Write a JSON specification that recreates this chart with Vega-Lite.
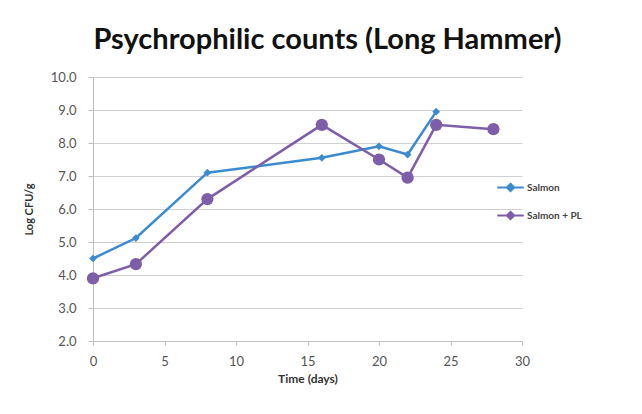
{
  "$schema": "https://vega.github.io/schema/vega-lite/v6.json",
  "autosize": {"type": "none"},
  "padding": {"left": 93, "top": 77, "right": 120, "bottom": 73},
  "width": 429,
  "height": 264,
  "background": "white",
  "title": {
    "text": "Psychrophilic counts (Long Hammer)",
    "font": "Lato",
    "fontSize": 29,
    "fontWeight": "bold",
    "color": "#111111",
    "anchor": "middle",
    "offset": 16,
    "dx": 20
  },
  "data": {
    "values": [
      {"day": 0, "log": 4.5, "series": "Salmon"},
      {"day": 3, "log": 5.12, "series": "Salmon"},
      {"day": 8, "log": 7.1, "series": "Salmon"},
      {"day": 16, "log": 7.55, "series": "Salmon"},
      {"day": 20, "log": 7.9, "series": "Salmon"},
      {"day": 22, "log": 7.65, "series": "Salmon"},
      {"day": 24, "log": 8.95, "series": "Salmon"},
      {"day": 0, "log": 3.9, "series": "Salmon + PL"},
      {"day": 3, "log": 4.33, "series": "Salmon + PL"},
      {"day": 8, "log": 6.3, "series": "Salmon + PL"},
      {"day": 16, "log": 8.55, "series": "Salmon + PL"},
      {"day": 20, "log": 7.5, "series": "Salmon + PL"},
      {"day": 22, "log": 6.95, "series": "Salmon + PL"},
      {"day": 24, "log": 8.55, "series": "Salmon + PL"},
      {"day": 28, "log": 8.42, "series": "Salmon + PL"}
    ]
  },
  "encoding": {
    "x": {
      "field": "day",
      "type": "quantitative",
      "scale": {"domain": [0, 30], "nice": false},
      "axis": {
        "title": "Time (days)",
        "values": [0, 5, 10, 15, 20, 25, 30],
        "grid": false,
        "labelFlush": false,
        "domainColor": "#bfbfbf",
        "tickColor": "#bfbfbf",
        "tickSize": 4,
        "labelFont": "Lato",
        "labelFontSize": 13,
        "labelColor": "#555555",
        "labelPadding": 10,
        "titleFont": "Lato",
        "titleFontSize": 12,
        "titleFontWeight": "bold",
        "titleColor": "#333333",
        "titlePadding": 5
      }
    },
    "y": {
      "field": "log",
      "type": "quantitative",
      "scale": {"domain": [2, 10], "nice": false, "zero": false},
      "axis": {
        "title": "Log CFU/g",
        "values": [2, 3, 4, 5, 6, 7, 8, 9, 10],
        "format": ".1f",
        "gridColor": "#d0d0d0",
        "gridWidth": 1.2,
        "domainColor": "#bfbfbf",
        "tickColor": "#bfbfbf",
        "tickSize": 5,
        "labelFont": "Lato",
        "labelFontSize": 13,
        "labelColor": "#555555",
        "labelPadding": 12,
        "titleFont": "Lato",
        "titleFontSize": 11,
        "titleFontWeight": "bold",
        "titleColor": "#333333",
        "titlePadding": 16
      }
    },
    "color": {
      "field": "series",
      "type": "nominal",
      "scale": {"domain": ["Salmon", "Salmon + PL"], "range": ["#3b8bd0", "#7e5ea8"]},
      "legend": {
        "title": null,
        "orient": "none",
        "legendX": 403,
        "legendY": 96,
        "rowPadding": 5,
        "labelFont": "Lato",
        "labelFontSize": 10,
        "labelFontWeight": "bold",
        "labelColor": "#444444",
        "labelOffset": 2,
        "symbolType": "M-1,0H1M0,-0.28L0.28,0L0,0.28L-0.28,0Z",
        "symbolSize": 700,
        "symbolStrokeWidth": 2
      }
    }
  },
  "layer": [
    {
      "mark": {"type": "line", "strokeWidth": 2.5}
    },
    {
      "transform": [{"filter": "datum.series === 'Salmon'"}],
      "mark": {"type": "point", "filled": true, "opacity": 1, "shape": "diamond", "size": 60}
    },
    {
      "transform": [{"filter": "datum.series === 'Salmon + PL'"}],
      "mark": {"type": "point", "filled": true, "opacity": 1, "shape": "circle", "size": 150}
    }
  ],
  "config": {"view": {"stroke": null}}
}
